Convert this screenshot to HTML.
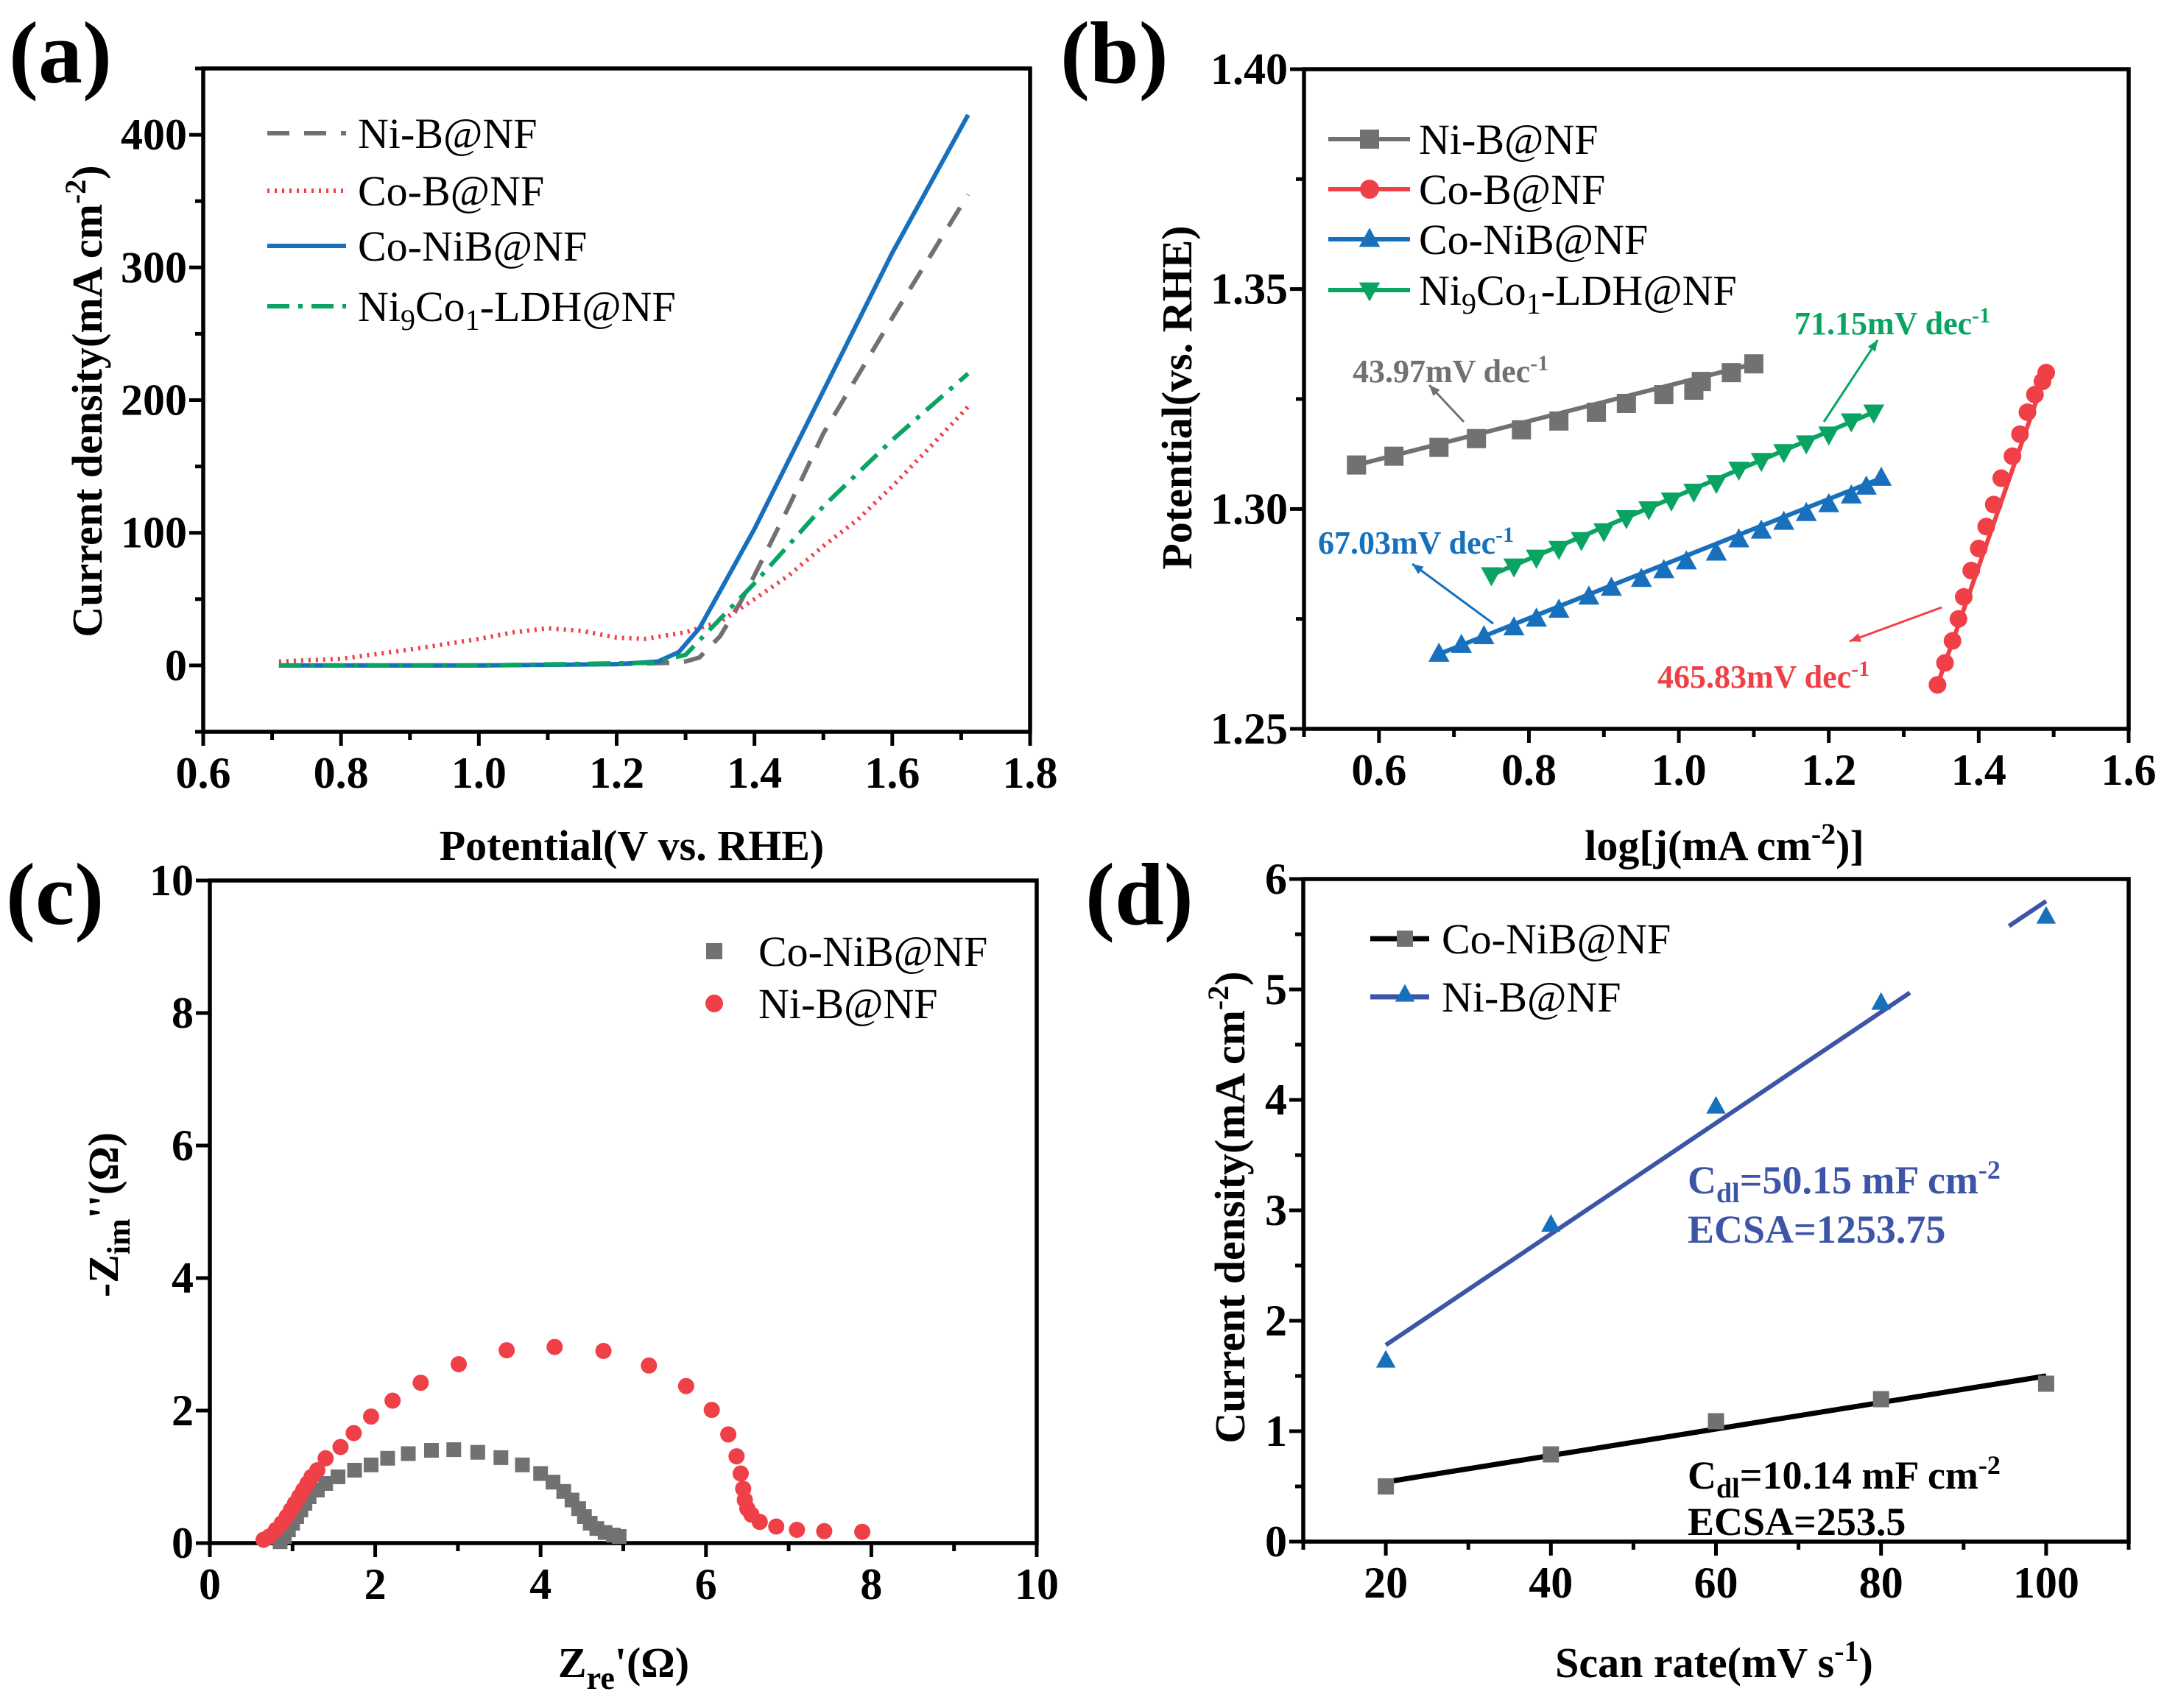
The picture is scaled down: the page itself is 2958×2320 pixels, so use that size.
<!DOCTYPE html>
<html><head><meta charset="utf-8"><style>
html,body{margin:0;padding:0;background:#fff}
svg{display:block}
text{font-family:"Liberation Serif","DejaVu Serif",serif}
.b{font-weight:bold}
</style></head><body>
<svg id="fig" width="2958" height="2320" viewBox="0 0 2958 2320" xmlns="http://www.w3.org/2000/svg">
<rect width="2958" height="2320" fill="#fff"/>
</svg>
<script>
// ---------- Panel (a) data ----------
const aNiBx=[0.71,0.8,1.0,1.2,1.28,1.3,1.32,1.35,1.38,1.4,1.45,1.5,1.6,1.71];
const aNiBy=[0,0,0,1,2,3,6,22,48,68,120,175,262,355];
const aCoBx=[0.71,0.8,0.9,1.0,1.05,1.1,1.15,1.2,1.24,1.3,1.35,1.4,1.45,1.5,1.55,1.6,1.65,1.71];
const aCoBy=[3,5,12,20,25,28,26,21,20,25,33,50,68,90,110,135,162,195];
const aCoNiBx=[0.71,1.0,1.2,1.26,1.29,1.32,1.35,1.4,1.5,1.6,1.71];
const aCoNiBy=[0,0,1,3,10,28,56,103,207,311,415];
const aLDHx=[0.71,1.0,1.25,1.3,1.35,1.4,1.5,1.6,1.71];
const aLDHy=[0,0,2,8,35,62,120,170,220];
const aXTicks=[0.6,0.8,1.0,1.2,1.4,1.6,1.8];
const aYTicks=[0,100,200,300,400];
// ---------- Panel (b) data ----------
const bNiBx=[0.57,0.62,0.68,0.73,0.79,0.84,0.89,0.93,0.98,1.02,1.03,1.07,1.10];
const bNiBy=[1.310,1.312,1.314,1.316,1.318,1.320,1.322,1.324,1.326,1.327,1.329,1.331,1.333];
const bCoBx=[1.345,1.355,1.365,1.373,1.38,1.39,1.40,1.41,1.42,1.43,1.445,1.455,1.465,1.475,1.485,1.49];
const bCoBy=[1.260,1.265,1.270,1.275,1.280,1.286,1.291,1.296,1.301,1.307,1.312,1.317,1.322,1.326,1.329,1.331];
const bCoNiBx=[0.68,0.71,0.74,0.78,0.81,0.84,0.88,0.91,0.95,0.98,1.01,1.05,1.08,1.11,1.14,1.17,1.20,1.23,1.25,1.27];
const bCoNiBy=[1.267,1.269,1.271,1.273,1.275,1.277,1.280,1.282,1.284,1.286,1.288,1.290,1.293,1.295,1.297,1.299,1.301,1.303,1.305,1.307];
const bLDHx=[0.75,0.78,0.81,0.84,0.87,0.90,0.93,0.96,0.99,1.02,1.05,1.08,1.11,1.14,1.17,1.20,1.23,1.26];
const bLDHy=[1.285,1.287,1.289,1.291,1.293,1.295,1.298,1.300,1.302,1.304,1.306,1.309,1.311,1.313,1.315,1.317,1.320,1.322];
const bXTicks=[0.6,0.8,1.0,1.2,1.4,1.6];
const bYTicks=[1.25,1.30,1.35,1.40];
// ---------- Panel (c) data ----------
const cCoNiBx=[0.85,0.9,0.95,1.0,1.05,1.1,1.15,1.2,1.3,1.4,1.55,1.75,1.95,2.15,2.4,2.68,2.95,3.24,3.52,3.78,4.0,4.15,4.28,4.38,4.46,4.53,4.6,4.68,4.78,4.88,4.95];
const cCoNiBy=[0.02,0.1,0.2,0.3,0.4,0.5,0.6,0.7,0.8,0.9,1.0,1.1,1.18,1.28,1.35,1.4,1.41,1.37,1.29,1.18,1.05,0.92,0.78,0.65,0.52,0.4,0.3,0.22,0.16,0.12,0.1];
const cNiBx=[0.65,0.72,0.8,0.87,0.93,0.98,1.03,1.08,1.13,1.18,1.23,1.3,1.4,1.58,1.74,1.95,2.21,2.55,3.01,3.59,4.17,4.76,5.31,5.76,6.07,6.27,6.37,6.42,6.45,6.47,6.5,6.55,6.65,6.85,7.1,7.43,7.89];
const cNiBy=[0.05,0.1,0.2,0.3,0.4,0.5,0.6,0.7,0.8,0.9,1.0,1.1,1.28,1.45,1.66,1.91,2.15,2.42,2.7,2.91,2.96,2.9,2.68,2.37,2.01,1.64,1.31,1.05,0.82,0.65,0.52,0.43,0.32,0.25,0.2,0.18,0.17];
const cXTicks=[0,2,4,6,8,10];
const cYTicks=[0,2,4,6,8,10];
// ---------- Panel (d) data ----------
const dScan=[20,40,60,80,100];
const dCoNiB=[0.5,0.79,1.09,1.29,1.43];
const dNiB=[1.64,2.87,3.94,4.88,5.66];
const dFitCoNiB=[0.54,1.5];
const dFitNiB=[1.78,5.8];
const dXTicks=[20,40,60,80,100];
const dYTicks=[0,1,2,3,4,5,6];

const NS="http://www.w3.org/2000/svg";
const svg=document.getElementById('fig');
function el(tag,attrs,parent,txt){const e=document.createElementNS(NS,tag);for(const k in attrs)e.setAttribute(k,attrs[k]);if(txt!==undefined)e.textContent=txt;(parent||svg).appendChild(e);return e;}
function lin(d0,d1,p0,p1){return v=>p0+(v-d0)*(p1-p0)/(d1-d0);}

function axes(g,box,xs,ys,xt,yt,xMinor,yMinor,xfmt,yfmt){
  const [L,T,R,B]=box;
  const fr=el('rect',{x:L,y:T,width:R-L,height:B-T,fill:'none',stroke:'#000','stroke-width':5.5},g);
  
  
  xMinor.forEach(v=>{const x=xs(v);el('line',{x1:x,y1:B,x2:x,y2:B+11,stroke:'#000','stroke-width':5},g);});
  yMinor.forEach(v=>{const y=ys(v);el('line',{x1:L,y1:y,x2:L-11,y2:y,stroke:'#000','stroke-width':5},g);});
  xt.forEach(v=>{const x=xs(v);el('line',{x1:x,y1:B,x2:x,y2:B+19,stroke:'#000','stroke-width':5},g);
    const t=el('text',{x:x,y:B+76,'font-size':60,'text-anchor':'middle',class:'b'},g,xfmt(v));
    
    });
  yt.forEach(v=>{const y=ys(v);el('line',{x1:L,y1:y,x2:L-19,y2:y,stroke:'#000','stroke-width':5},g);
    const t=el('text',{x:L-22,y:y+20,'font-size':60,'text-anchor':'end',class:'b'},g,yfmt(v));
    
    });
}
function path(xs,ys,X,Y){return X.map((v,i)=>(i?'L':'M')+xs(v).toFixed(1)+' '+ys(Y[i]).toFixed(1)).join(' ');}
function mk(g,type,x,y,c,s){
  if(type==='sq') return el('rect',{x:x-s,y:y-s,width:2*s,height:2*s,fill:c},g);
  if(type==='ci') return el('circle',{cx:x,cy:y,r:s,fill:c},g);
  if(type==='up') return el('polygon',{points:`${x},${y-s*1.2} ${x-s*1.1},${y+s*0.8} ${x+s*1.1},${y+s*0.8}`,fill:c},g);
  return el('polygon',{points:`${x},${y+s*1.2} ${x-s*1.1},${y-s*0.8} ${x+s*1.1},${y-s*0.8}`,fill:c},g);
}
function label(g,txt,x,y){const t=el('text',{x:x,y:y,'font-size':120,class:'b'},g,txt);
  
  }
function ytitle(g,x,y,html){const t=el('text',{x:0,y:0,'font-size':58,class:'b','text-anchor':'middle',transform:`translate(${x},${y}) rotate(-90)`},g);t.innerHTML=html;
  
  }
function xtitle(g,x,y,html){const t=el('text',{x:x,y:y,'font-size':58,class:'b','text-anchor':'middle'},g);t.innerHTML=html;
  
  }

const GRAY='#717171',RED='#ef3f47',BLUE='#1870bd',GREEN='#0aa462',DBLUE='#3d55a6';

// ================= Panel a =================
{
const g=el('g',{});


const box=[276,93,1399,994];
const xs=lin(0.6,1.8,276,1399), ys=lin(-50,450,994,93);
axes(g,box,xs,ys,aXTicks,aYTicks,[0.7,0.9,1.1,1.3,1.5,1.7],[-50,50,150,250,350,450],v=>v.toFixed(1),v=>String(v));
label(g,'(a)',12,112);
ytitle(g,138,545,'Current density(mA cm<tspan dy="-22" font-size="40">-2</tspan><tspan dy="22">)</tspan>');
xtitle(g,858,1168,'Potential(V vs. RHE)');
const s=[[aNiBx,aNiBy,GRAY,'30 20','ni-b-curve'],[aCoBx,aCoBy,RED,'3 7','co-b-curve'],[aCoNiBx,aCoNiBy,BLUE,'','co-nib-curve'],[aLDHx,aLDHy,GREEN,'30 12 6 12','ldh-curve']];
s.forEach(([X,Y,c,d,n])=>{const p=el('path',{d:path(xs,ys,X,Y),fill:'none',stroke:c,'stroke-width':6,'stroke-dasharray':d,'stroke-linejoin':'round'},g);
  
  });
const leg=[['Ni-B@NF',GRAY,'30 20'],['Co-B@NF',RED,'3 7'],['Co-NiB@NF',BLUE,''],['LDH',GREEN,'30 12 6 12']];
const ly=[181,259,334,416];
leg.forEach(([t,c,d],i)=>{el('line',{x1:363,y1:ly[i],x2:470,y2:ly[i],stroke:c,'stroke-width':6,'stroke-dasharray':d},g);
  const tx=el('text',{x:486,y:ly[i]+20,'font-size':58},g);
  if(t==='LDH') tx.innerHTML='Ni<tspan dy="12" font-size="40">9</tspan><tspan dy="-12">Co</tspan><tspan dy="12" font-size="40">1</tspan><tspan dy="-12">-LDH@NF</tspan>'; else tx.textContent=t;
  
  });
}
// ================= Panel b =================
{
const g=el('g',{});


const box=[1771,94,2891,990];
const xs=lin(0.5,1.6,1771,2891), ys=lin(1.25,1.40,990,94);
axes(g,box,xs,ys,bXTicks,bYTicks,[0.5,0.7,0.9,1.1,1.3,1.5],[1.275,1.325,1.375],v=>v.toFixed(1),v=>v.toFixed(2));
label(g,'(b)',1440,112);
ytitle(g,1618,540,'Potential(vs. RHE)');
xtitle(g,2342,1168,'log[j(mA cm<tspan dy="-22" font-size="40">-2</tspan><tspan dy="22">)]</tspan>');
const s=[[bNiBx,bNiBy,GRAY,'sq','ni-b'],[bCoBx,bCoBy,RED,'ci','co-b'],[bCoNiBx,bCoNiBy,BLUE,'up','co-nib'],[bLDHx,bLDHy,GREEN,'dn','ldh']];
s.forEach(([X,Y,c,m,n])=>{const n1=X.length-1;
  const l=el('line',{x1:xs(X[0]),y1:ys(Y[0]),x2:xs(X[n1]),y2:ys(Y[n1]),stroke:c,'stroke-width':6},g);
  
  
  X.forEach((v,i)=>{const p=mk(g,m,xs(v),ys(Y[i]),c,m==='ci'?12:13);
    
    });});
const leg=[['Ni-B@NF',GRAY,'sq'],['Co-B@NF',RED,'ci'],['Co-NiB@NF',BLUE,'up'],['LDH',GREEN,'dn']];
const ly=[189,257,325,394];
leg.forEach(([t,c,m],i)=>{el('line',{x1:1804,y1:ly[i],x2:1915,y2:ly[i],stroke:c,'stroke-width':6},g);mk(g,m,1860,ly[i],c,13);
  const tx=el('text',{x:1927,y:ly[i]+20,'font-size':58},g);
  if(t==='LDH') tx.innerHTML='Ni<tspan dy="12" font-size="40">9</tspan><tspan dy="-12">Co</tspan><tspan dy="12" font-size="40">1</tspan><tspan dy="-12">-LDH@NF</tspan>'; else tx.textContent=t;
  
  });
const ann=[['43.97mV dec',GRAY,1837,519,[1988,573,1941,523]],['71.15mV dec',GREEN,2437,454,[2477,573,2550,462]],['67.03mV dec',BLUE,1790,752,[2028,847,1918,766]],['465.83mV dec',RED,2251,934,[2637,825,2512,871]]];
ann.forEach(([t,c,x,y,a])=>{const tx=el('text',{x:x,y:y,'font-size':44,class:'b',fill:c},g);
  tx.innerHTML=t+'<tspan dy="-16" font-size="30">-1</tspan>';
  
  
  el('line',{x1:a[0],y1:a[1],x2:a[2],y2:a[3],stroke:c,'stroke-width':3},g);
  const ang=Math.atan2(a[3]-a[1],a[2]-a[0]),h=16;
  el('polygon',{points:`${a[2]},${a[3]} ${a[2]-h*Math.cos(ang-0.4)},${a[3]-h*Math.sin(ang-0.4)} ${a[2]-h*Math.cos(ang+0.4)},${a[3]-h*Math.sin(ang+0.4)}`,fill:c},g);});
}
// ================= Panel c =================
{
const g=el('g',{});


const box=[285,1196,1408,2096];
const xs=lin(0,10,285,1408), ys=lin(0,10,2096,1196);
axes(g,box,xs,ys,cXTicks,cYTicks,[1,3,5,7,9],[],v=>String(v),v=>String(v));
label(g,'(c)',8,1255);
ytitle(g,160,1650,'-Z<tspan dy="16" font-size="44">im</tspan><tspan dy="-16">\'\'(Ω)</tspan>');
xtitle(g,847,2278,'Z<tspan dy="16" font-size="44">re</tspan><tspan dy="-16">\'(Ω)</tspan>');
cCoNiBx.forEach((v,i)=>{const p=mk(g,'sq',xs(v),ys(cCoNiBy[i]),GRAY,10);
  
  });
cNiBx.forEach((v,i)=>{const p=mk(g,'ci',xs(v),ys(cNiBy[i]),RED,11);
  
  });
mk(g,'sq',970,1292,GRAY,11);mk(g,'ci',970,1363,RED,12);
[['Co-NiB@NF',1292],['Ni-B@NF',1363]].forEach(([t,y])=>{const tx=el('text',{x:1030,y:y+20,'font-size':58},g,t);
  
  });
}
// ================= Panel d =================
{
const g=el('g',{});


const box=[1770,1194,2891,2094];
const xs=lin(10,110,1770,2891), ys=lin(0,6,2094,1194);
axes(g,box,xs,ys,dXTicks,dYTicks,[10,30,50,70,90,110],[0.5,1.5,2.5,3.5,4.5,5.5],v=>String(v),v=>String(v));
label(g,'(d)',1474,1255);
ytitle(g,1690,1640,'Current density(mA cm<tspan dy="-22" font-size="40">-2</tspan><tspan dy="22">)</tspan>');
xtitle(g,2328,2278,'Scan rate(mV s<tspan dy="-22" font-size="40">-1</tspan><tspan dy="22">)</tspan>');
const x0=dScan[0],x1=dScan[dScan.length-1];
const lb=el('line',{x1:xs(x0),y1:ys(dFitCoNiB[0]),x2:xs(x1),y2:ys(dFitCoNiB[1]),stroke:'#000','stroke-width':7},g);


const fy=v=>dFitNiB[0]+(v-x0)*(dFitNiB[1]-dFitNiB[0])/(x1-x0);
const l1=el('line',{x1:xs(x0),y1:ys(fy(x0)),x2:xs(83.5),y2:ys(fy(83.5)),stroke:DBLUE,'stroke-width':6},g);


const l2=el('line',{x1:xs(95.5),y1:ys(fy(95.5)),x2:xs(x1),y2:ys(fy(x1)),stroke:DBLUE,'stroke-width':6},g);


dScan.forEach((v,i)=>{const p=mk(g,'sq',xs(v),ys(dCoNiB[i]),GRAY,11);
  
  
  const q=mk(g,'up',xs(v),ys(dNiB[i]),BLUE,12);
  
  });
el('line',{x1:1861,y1:1275,x2:1941,y2:1275,stroke:'#000','stroke-width':7},g);mk(g,'sq',1908,1275,GRAY,11);
el('line',{x1:1861,y1:1354,x2:1941,y2:1354,stroke:DBLUE,'stroke-width':7},g);mk(g,'up',1908,1351,BLUE,12);
[['Co-NiB@NF',1275],['Ni-B@NF',1354]].forEach(([t,y])=>{const tx=el('text',{x:1958,y:y+20,'font-size':58},g,t);
  
  });
const ann=[['50.15',DBLUE,1621,'1253.75',1688],['10.14','#000',2022,'253.5',2085]];
ann.forEach(([c1,c,y1,e,y2])=>{const t1=el('text',{x:2292,y:y1,'font-size':54,class:'b',fill:c},g);
  t1.innerHTML='C<tspan dy="12" font-size="38">dl</tspan><tspan dy="-12">='+c1+' mF cm</tspan><tspan dy="-20" font-size="36">-2</tspan>';
  
  
  const t2=el('text',{x:2292,y:y2,'font-size':54,class:'b',fill:c},g,'ECSA='+e);
  
  });
}
</script>
</body></html>
